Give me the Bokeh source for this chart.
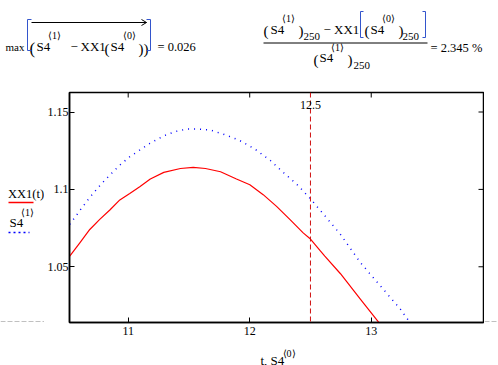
import math
from bokeh.plotting import figure
from bokeh.layouts import column, row
from bokeh.models import Range1d, FixedTicker, Span, Label, ColumnDataSource
from bokeh.core.properties import value
from bokeh.embed import file_html
from bokeh.resources import INLINE

# ---- data ----
xx1_t = [10.519, 10.602, 10.684, 10.766, 10.849, 10.931, 11.013, 11.095, 11.182,
         11.293, 11.430, 11.535, 11.636, 11.760, 11.891, 12.001, 12.111, 12.221,
         12.330, 12.440, 12.495, 12.583, 12.618, 12.747, 12.912, 13.071]
xx1_y = [1.0569, 1.0655, 1.0741, 1.0806, 1.0867, 1.0932, 1.0974, 1.1017, 1.1067,
         1.1110, 1.1135, 1.1142, 1.1135, 1.1114, 1.1067, 1.1030, 1.0966, 1.0890,
         1.0806, 1.0719, 1.0683, 1.0601, 1.0569, 1.0455, 1.0290, 1.0132]
s4_t = [10.519, 10.602, 10.684, 10.766, 10.849, 10.931, 11.013, 11.095, 11.178,
        11.293, 11.389, 11.486, 11.581, 11.677, 11.782, 11.910, 12.042, 12.165,
        12.276, 12.385, 12.490, 12.618, 12.747, 12.912, 13.077, 13.241, 13.323]
s4_y = [1.0774, 1.0863, 1.0948, 1.1024, 1.1093, 1.1157, 1.1211, 1.1254, 1.1297,
        1.1346, 1.1374, 1.1390, 1.1390, 1.1383, 1.1357, 1.1319, 1.1261, 1.1190,
        1.1110, 1.1035, 1.0948, 1.0830, 1.0709, 1.0526, 1.0375, 1.0225, 1.0135]
x_ticks = [11, 12, 13]
x_tick_labels = ["11", "12", "13"]
y_ticks = [1.05, 1.1, 1.15]
y_tick_labels = ["1.05", "1.1", "1.15"]
marker_x = 12.5
marker_label = "12.5"
max_diff = 0.026
rel_diff_pct = 2.345

X_LO, X_HI = 10.517, 13.924
Y_LO, Y_HI = 1.014, 1.1626

W, H = 498, 365
HEAD_H = 80          # header strip with the formulas
FOOT_H = 24          # footer strip with the x title
LEG_W = 44           # legend strip on the left
RS_W = 14            # thin strip on the right
MAIN_W = W - LEG_W - RS_W
MAIN_H = H - HEAD_H - FOOT_H
BT, BB = 12, 19      # top / bottom borders of the plot row
FRAME_TOP = HEAD_H + BT
FRAME_BOT = HEAD_H + MAIN_H - BB
FONT = "Liberation Serif"
RED = "#ff0000"
BLUE = "#0000ff"
BRACKET = "#3355cc"
GREY = "#c0c0c0"


def blank(width, height, x0, x1, y_top, y_bottom, bt=0, bb=0):
    f = figure(width=width, height=height, x_range=Range1d(x0, x1),
               y_range=Range1d(y_bottom, y_top), output_backend="svg",
               toolbar_location=None, x_axis_type=None, y_axis_type=None,
               min_border_left=0, min_border_right=0, min_border_top=bt, min_border_bottom=bb)
    f.xgrid.visible = False
    f.ygrid.visible = False
    f.outline_line_color = None
    f.background_fill_color = "white"
    f.border_fill_color = "white"
    return f


def put_texts(f, items):
    src = ColumnDataSource(dict(
        x=[i[0] for i in items], y=[i[1] for i in items], text=[i[2] for i in items],
        size=[f"{i[3]}px" for i in items],
        color=[i[4] if len(i) > 4 else "black" for i in items]))
    f.text(x="x", y="y", text="text", source=src, text_font=value(FONT),
           text_font_size="size", text_color="color", text_baseline="alphabetic",
           text_align="left")


def put_segs(f, segs, color="black", width=1.0, dash="solid"):
    f.segment(x0=[s[0] for s in segs], y0=[s[1] for s in segs],
              x1=[s[2] for s in segs], y1=[s[3] for s in segs],
              line_color=color, line_width=width, line_dash=dash)


def bracket(Xl, Xr, Y0, Y1, serif=4):
    return [(Xl, Y0, Xl, Y1), (Xl, Y0, Xl + serif, Y0), (Xl, Y1, Xl + serif, Y1),
            (Xr, Y0, Xr, Y1), (Xr - serif, Y0, Xr, Y0), (Xr - serif, Y1, Xr, Y1)]


# ---------------- header (formulas) ----------------
head = blank(W, HEAD_H, 0, W, 0, HEAD_H)
put_texts(head, [
    (5, 46, "max", 11),
    (29, 48, "(", 17),
    (36, 46, "S4", 13),
    (47.5, 35, "⟨1⟩", 10),
    (70, 46, "−", 13),
    (80, 46, "XX1", 13),
    (104, 48, "(", 15),
    (110, 46, "S4", 13),
    (122.5, 35, "⟨0⟩", 10),
    (138, 48, "))", 15),
    (157, 46, f"= {max_diff:.3f}", 12.5),
    (263, 30, "(", 15),
    (270, 28.5, "S4", 13),
    (281.5, 18, "⟨1⟩", 10),
    (298, 30, ")", 15),
    (303, 36, "250", 11),
    (323, 28.5, "− XX1", 13),
    (364, 30, "(", 15),
    (370, 28.5, "S4", 13),
    (381.5, 18, "⟨0⟩", 10),
    (398, 30, ")", 15),
    (402, 36, "250", 11),
    (313, 59, "(", 15),
    (319, 57, "S4", 13),
    (330.5, 47, "⟨1⟩", 10),
    (347, 59, ")", 15),
    (353, 65, "250", 11),
    (430, 47, f"= {rel_diff_pct:.3f} %", 12.5),
])
put_segs(head, bracket(27, 150, 19, 50) + bracket(360, 425, 11, 37, serif=3), color=BRACKET)
put_segs(head, [(31, 22, 146, 22), (141, 19, 146, 22), (141, 25, 146, 22),
                (263, 42.5, 427, 42.5)], color="black", width=1)

# ---------------- legend strip ----------------
leg = blank(LEG_W, MAIN_H, 0, LEG_W, FRAME_TOP, FRAME_BOT, bt=BT, bb=BB)
put_texts(leg, [
    (7.5, 193, "XX1(t)", 12.5),
    (9, 222, "S4", 13),
    (20.5, 212, "⟨1⟩", 10),
])
put_segs(leg, [(8, 202, 33, 202)], color=RED, width=1.5)
put_segs(leg, [(8, 232, 29, 232)], color=BLUE, width=1.6, dash="2 3")
put_segs(leg, [(0, 321, LEG_W, 321)], color=GREY, width=1, dash="5 2")

# ---------------- main plot ----------------
p = figure(width=MAIN_W, height=MAIN_H, x_range=Range1d(X_LO, X_HI),
           y_range=Range1d(Y_LO, Y_HI), output_backend="svg", toolbar_location=None,
           min_border_left=69 - LEG_W, min_border_right=1, min_border_top=BT,
           min_border_bottom=BB)
p.xgrid.visible = False
p.ygrid.visible = False
p.outline_line_color = "black"
p.outline_line_width = 1.5
p.background_fill_color = "white"
p.border_fill_color = "white"


def style_axis(ax, ticks, labels, standoff):
    ax.ticker = FixedTicker(ticks=ticks)
    ax.major_label_overrides = dict(zip(ticks, labels))
    ax.major_tick_in = 5
    ax.major_tick_out = 0
    ax.minor_tick_in = 0
    ax.minor_tick_out = 0
    ax.axis_line_width = 1.5
    ax.axis_line_color = "black"
    ax.major_tick_line_color = "black"
    ax.major_tick_line_width = 1
    ax.major_label_text_font = FONT
    ax.major_label_text_font_size = "12px"
    ax.major_label_text_color = "black"
    ax.major_label_standoff = standoff


style_axis(p.xaxis[0], x_ticks, x_tick_labels, 4)
style_axis(p.yaxis[0], y_ticks, y_tick_labels, 1)

# mirrored inward ticks on the top and right edges (half of each dash is clipped away)
p.scatter(x=x_ticks, y=[Y_HI] * len(x_ticks), marker="dash", size=10, angle=math.pi / 2,
          line_color="black", line_width=1)
p.scatter(x=[X_HI] * len(y_ticks), y=y_ticks, marker="dash", size=10,
          line_color="black", line_width=1)

p.line(xx1_t, xx1_y, line_color=RED, line_width=1.2)
p.line(s4_t, s4_y, line_color=BLUE, line_width=1.5, line_dash="1 5")

p.add_layout(Span(location=marker_x, dimension="height", line_color="#d01010",
                  line_width=1, line_dash="5 3"))
p.add_layout(Label(x=marker_x, y=FRAME_BOT - 104, y_units="screen", text=marker_label,
                   text_font=FONT, text_font_size="12px", text_align="center",
                   text_baseline="alphabetic", text_color="black"))

# ---------------- right strip (grey marker continues) ----------------
rs = blank(RS_W, MAIN_H, 0, RS_W, FRAME_TOP, FRAME_BOT, bt=BT, bb=BB)
put_segs(rs, [(0, 321, RS_W, 321)], color=GREY, width=1, dash="5 2")

# ---------------- footer (x title) ----------------
foot = blank(W, FOOT_H, 0, W, HEAD_H + MAIN_H, H)
put_texts(foot, [
    (260, 359.5, "t, S4", 13),
    (282, 353, "⟨0⟩", 10),
])

layout = column(head, row(leg, p, rs, spacing=0), foot, spacing=0)
open("out.html", "w").write(file_html(layout, INLINE))
